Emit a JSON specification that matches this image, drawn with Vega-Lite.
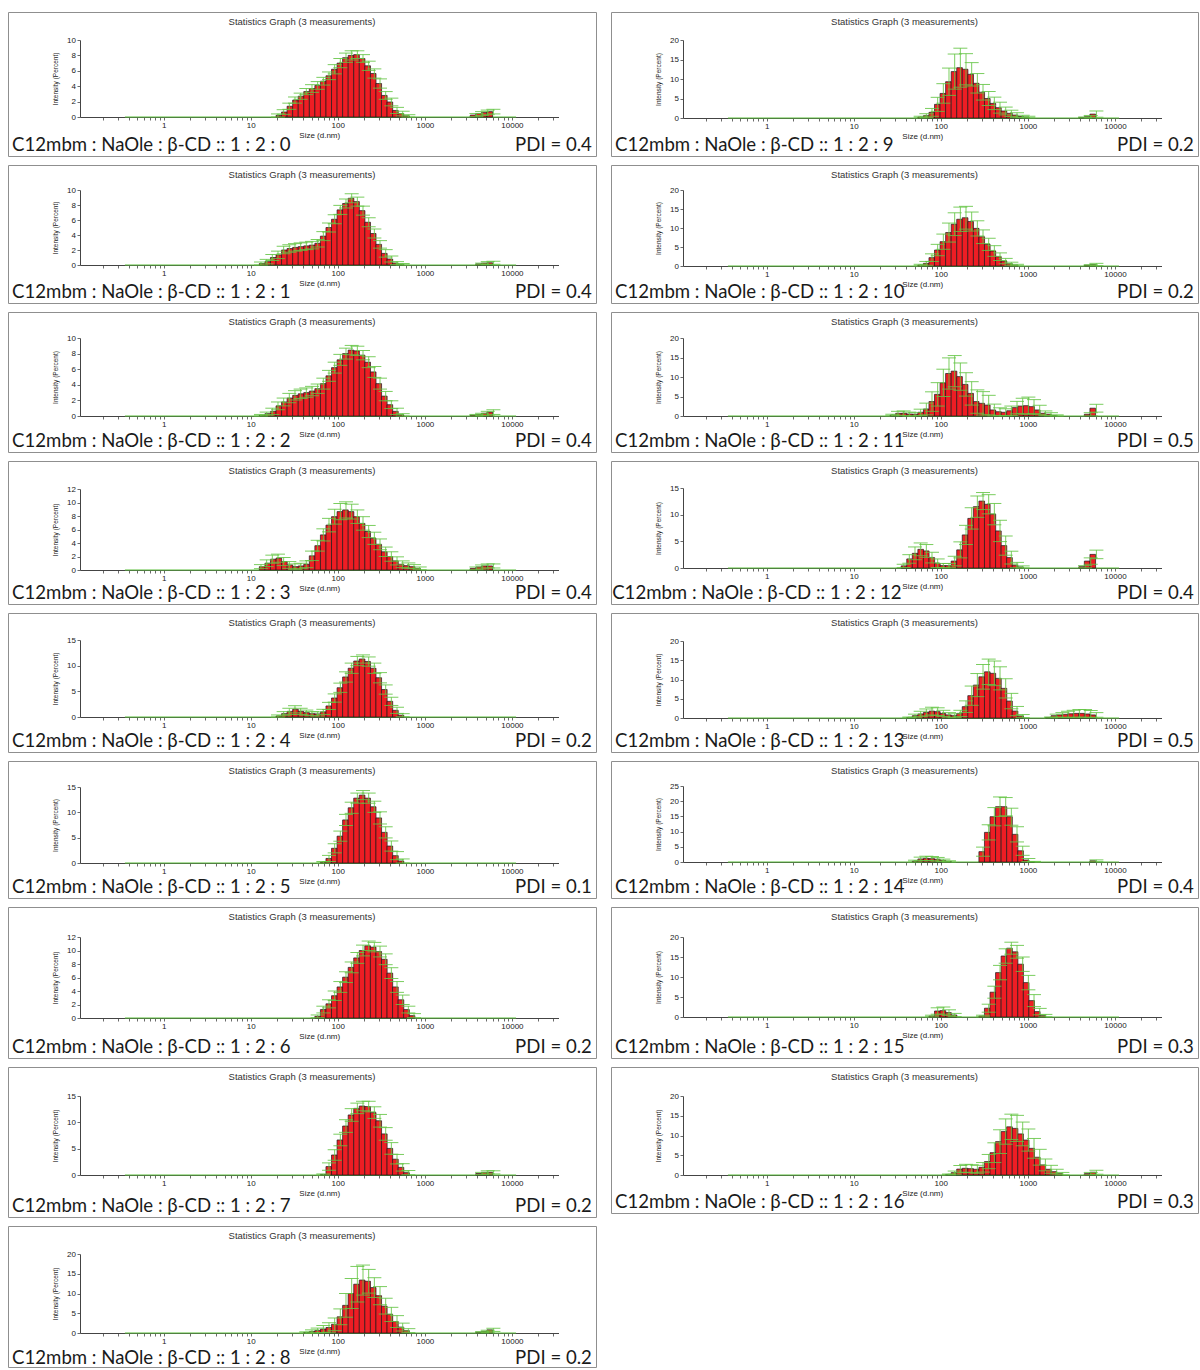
{
  "$schema": "https://vega.github.io/schema/vega-lite/v6.json",
  "padding": {"left": 7, "top": 11, "right": 0, "bottom": 0},
  "background": "white",
  "datasets": {
    "b0": [{"s":21.04,"v":0.2,"e":0.2},{"s":24.36,"v":0.65,"e":0.3},{"s":28.21,"v":1.4,"e":0.4},{"s":32.67,"v":2.2,"e":0.4},{"s":37.84,"v":2.7,"e":0.4},{"s":43.82,"v":3.3,"e":0.4},{"s":50.75,"v":3.7,"e":0.5},{"s":58.77,"v":4.1,"e":0.5},{"s":68.06,"v":4.65,"e":0.5},{"s":78.82,"v":5.35,"e":0.5},{"s":91.28,"v":6.2,"e":0.6},{"s":105.7,"v":7.0,"e":0.6},{"s":122.4,"v":7.7,"e":0.6},{"s":141.8,"v":8.0,"e":0.6},{"s":164.2,"v":8.1,"e":0.5},{"s":190.1,"v":7.6,"e":0.5},{"s":220.2,"v":6.65,"e":0.6},{"s":255,"v":5.65,"e":0.6},{"s":295.3,"v":4.35,"e":0.6},{"s":342,"v":2.8,"e":0.5},{"s":396.1,"v":1.95,"e":0.5},{"s":458.7,"v":0.85,"e":0.4},{"s":531.2,"v":0.45,"e":0.3},{"s":615.1,"v":0.15,"e":0.15},{"s":3580,"v":0.25,"e":0.2},{"s":4145,"v":0.45,"e":0.25},{"s":4801,"v":0.6,"e":0.3},{"s":5560,"v":0.7,"e":0.3}],
    "b1": [{"s":13.54,"v":0.2,"e":0.2},{"s":15.69,"v":0.45,"e":0.3},{"s":18.17,"v":1.0,"e":0.4},{"s":21.04,"v":1.35,"e":0.5},{"s":24.36,"v":2.0,"e":0.5},{"s":28.21,"v":2.2,"e":0.5},{"s":32.67,"v":2.35,"e":0.5},{"s":37.84,"v":2.45,"e":0.5},{"s":43.82,"v":2.55,"e":0.5},{"s":50.75,"v":2.65,"e":0.5},{"s":58.77,"v":2.9,"e":0.5},{"s":68.06,"v":3.85,"e":0.6},{"s":78.82,"v":5.0,"e":0.6},{"s":91.28,"v":6.1,"e":0.6},{"s":105.7,"v":7.35,"e":0.6},{"s":122.4,"v":8.2,"e":0.6},{"s":141.8,"v":8.9,"e":0.6},{"s":164.2,"v":8.45,"e":0.6},{"s":190.1,"v":7.25,"e":0.6},{"s":220.2,"v":5.7,"e":0.6},{"s":255,"v":4.2,"e":0.6},{"s":295.3,"v":2.75,"e":0.5},{"s":342,"v":1.55,"e":0.5},{"s":396.1,"v":0.8,"e":0.4},{"s":458.7,"v":0.25,"e":0.2},{"s":531.2,"v":0.1,"e":0.1},{"s":4145,"v":0.15,"e":0.1},{"s":4801,"v":0.25,"e":0.2},{"s":5560,"v":0.3,"e":0.2}],
    "b2": [{"s":13.54,"v":0.1,"e":0.1},{"s":15.69,"v":0.3,"e":0.2},{"s":18.17,"v":0.6,"e":0.4},{"s":21.04,"v":1.3,"e":0.5},{"s":24.36,"v":1.8,"e":0.5},{"s":28.21,"v":2.3,"e":0.6},{"s":32.67,"v":2.65,"e":0.6},{"s":37.84,"v":2.85,"e":0.6},{"s":43.82,"v":3.0,"e":0.6},{"s":50.75,"v":3.2,"e":0.6},{"s":58.77,"v":3.5,"e":0.6},{"s":68.06,"v":4.15,"e":0.7},{"s":78.82,"v":5.15,"e":0.7},{"s":91.28,"v":6.2,"e":0.7},{"s":105.7,"v":7.2,"e":0.7},{"s":122.4,"v":8.0,"e":0.7},{"s":141.8,"v":8.45,"e":0.6},{"s":164.2,"v":8.35,"e":0.6},{"s":190.1,"v":7.8,"e":0.6},{"s":220.2,"v":6.9,"e":0.7},{"s":255,"v":5.65,"e":0.7},{"s":295.3,"v":4.15,"e":0.7},{"s":342,"v":2.55,"e":0.6},{"s":396.1,"v":1.45,"e":0.5},{"s":458.7,"v":0.6,"e":0.4},{"s":531.2,"v":0.15,"e":0.15},{"s":3580,"v":0.1,"e":0.1},{"s":4145,"v":0.2,"e":0.15},{"s":4801,"v":0.35,"e":0.25},{"s":5560,"v":0.5,"e":0.3}],
    "b3": [{"s":13.54,"v":0.5,"e":0.3},{"s":15.69,"v":1.0,"e":0.5},{"s":18.17,"v":1.6,"e":0.6},{"s":21.04,"v":1.75,"e":0.6},{"s":24.36,"v":1.25,"e":0.6},{"s":28.21,"v":0.75,"e":0.5},{"s":32.67,"v":0.5,"e":0.4},{"s":37.84,"v":0.6,"e":0.4},{"s":43.82,"v":0.85,"e":0.5},{"s":50.75,"v":2.1,"e":0.7},{"s":58.77,"v":3.6,"e":0.8},{"s":68.06,"v":5.2,"e":0.9},{"s":78.82,"v":6.65,"e":1.0},{"s":91.28,"v":7.9,"e":1.1},{"s":105.7,"v":8.65,"e":1.2},{"s":122.4,"v":8.9,"e":1.2},{"s":141.8,"v":8.65,"e":1.1},{"s":164.2,"v":7.9,"e":1.0},{"s":190.1,"v":6.9,"e":1.0},{"s":220.2,"v":5.7,"e":0.9},{"s":255,"v":4.7,"e":0.9},{"s":295.3,"v":3.8,"e":0.8},{"s":342,"v":2.7,"e":0.7},{"s":396.1,"v":2.0,"e":0.7},{"s":458.7,"v":1.35,"e":0.6},{"s":531.2,"v":0.85,"e":0.5},{"s":615.1,"v":0.65,"e":0.4},{"s":712.4,"v":0.5,"e":0.3},{"s":825,"v":0.25,"e":0.2},{"s":3580,"v":0.25,"e":0.2},{"s":4145,"v":0.45,"e":0.3},{"s":4801,"v":0.6,"e":0.3},{"s":5560,"v":0.6,"e":0.3}],
    "b4": [{"s":21.04,"v":0.2,"e":0.2},{"s":24.36,"v":0.65,"e":0.4},{"s":28.21,"v":1.1,"e":0.6},{"s":32.67,"v":1.5,"e":0.7},{"s":37.84,"v":1.1,"e":0.6},{"s":43.82,"v":0.85,"e":0.5},{"s":50.75,"v":0.65,"e":0.4},{"s":58.77,"v":0.6,"e":0.4},{"s":68.06,"v":1.0,"e":0.5},{"s":78.82,"v":2.15,"e":0.7},{"s":91.28,"v":3.7,"e":0.8},{"s":105.7,"v":5.7,"e":0.9},{"s":122.4,"v":7.8,"e":1.0},{"s":141.8,"v":9.5,"e":1.0},{"s":164.2,"v":10.9,"e":0.9},{"s":190.1,"v":11.3,"e":0.8},{"s":220.2,"v":10.8,"e":0.9},{"s":255,"v":9.5,"e":1.0},{"s":295.3,"v":7.65,"e":1.0},{"s":342,"v":5.35,"e":0.9},{"s":396.1,"v":3.05,"e":0.8},{"s":458.7,"v":1.3,"e":0.6},{"s":531.2,"v":0.35,"e":0.3}],
    "b5": [{"s":68.06,"v":0.15,"e":0.15},{"s":78.82,"v":0.9,"e":0.6},{"s":91.28,"v":2.9,"e":0.9},{"s":105.7,"v":5.3,"e":1.0},{"s":122.4,"v":8.5,"e":1.1},{"s":141.8,"v":10.9,"e":1.1},{"s":164.2,"v":12.8,"e":1.0},{"s":190.1,"v":13.4,"e":0.9},{"s":220.2,"v":12.8,"e":1.0},{"s":255,"v":11.1,"e":1.1},{"s":295.3,"v":8.9,"e":1.2},{"s":342,"v":6.05,"e":1.1},{"s":396.1,"v":3.35,"e":1.0},{"s":458.7,"v":1.45,"e":0.8},{"s":531.2,"v":0.4,"e":0.4}],
    "b6": [{"s":58.77,"v":0.25,"e":0.2},{"s":68.06,"v":1.25,"e":0.5},{"s":78.82,"v":2.1,"e":0.6},{"s":91.28,"v":3.3,"e":0.7},{"s":105.7,"v":4.6,"e":0.8},{"s":122.4,"v":6.05,"e":0.8},{"s":141.8,"v":7.5,"e":0.8},{"s":164.2,"v":8.9,"e":0.8},{"s":190.1,"v":10.0,"e":0.8},{"s":220.2,"v":10.7,"e":0.7},{"s":255,"v":10.5,"e":0.7},{"s":295.3,"v":9.85,"e":0.8},{"s":342,"v":8.7,"e":0.8},{"s":396.1,"v":6.65,"e":0.8},{"s":458.7,"v":4.6,"e":0.8},{"s":531.2,"v":2.7,"e":0.7},{"s":615.1,"v":1.25,"e":0.5},{"s":712.4,"v":0.35,"e":0.3}],
    "b7": [{"s":68.06,"v":0.1,"e":0.1},{"s":78.82,"v":1.6,"e":0.7},{"s":91.28,"v":3.8,"e":1.0},{"s":105.7,"v":6.65,"e":1.1},{"s":122.4,"v":9.3,"e":1.2},{"s":141.8,"v":11.4,"e":1.2},{"s":164.2,"v":12.65,"e":1.0},{"s":190.1,"v":13.1,"e":0.9},{"s":220.2,"v":13.0,"e":1.0},{"s":255,"v":11.85,"e":1.1},{"s":295.3,"v":10.3,"e":1.2},{"s":342,"v":7.8,"e":1.2},{"s":396.1,"v":5.05,"e":1.1},{"s":458.7,"v":3.0,"e":0.9},{"s":531.2,"v":1.45,"e":0.7},{"s":615.1,"v":0.45,"e":0.4},{"s":4145,"v":0.3,"e":0.2},{"s":4801,"v":0.5,"e":0.3},{"s":5560,"v":0.5,"e":0.3}],
    "b8": [{"s":43.82,"v":0.15,"e":0.15},{"s":50.75,"v":0.4,"e":0.4},{"s":58.77,"v":0.65,"e":0.6},{"s":68.06,"v":1.0,"e":0.9},{"s":78.82,"v":1.4,"e":1.2},{"s":91.28,"v":2.2,"e":1.6},{"s":105.7,"v":4.1,"e":2.0},{"s":122.4,"v":7.0,"e":3.0},{"s":141.8,"v":10.0,"e":3.8},{"s":164.2,"v":12.35,"e":4.5},{"s":190.1,"v":13.4,"e":3.8},{"s":220.2,"v":13.1,"e":3.0},{"s":255,"v":11.5,"e":2.5},{"s":295.3,"v":9.45,"e":2.3},{"s":342,"v":6.8,"e":2.0},{"s":396.1,"v":4.7,"e":1.8},{"s":458.7,"v":2.9,"e":1.5},{"s":531.2,"v":1.5,"e":1.0},{"s":615.1,"v":0.6,"e":0.5},{"s":4145,"v":0.2,"e":0.15},{"s":4801,"v":0.4,"e":0.3},{"s":5560,"v":0.8,"e":0.4}],
    "b9": [{"s":58.77,"v":0.25,"e":0.2},{"s":68.06,"v":0.6,"e":0.5},{"s":78.82,"v":1.45,"e":1.0},{"s":91.28,"v":3.5,"e":1.8},{"s":105.7,"v":6.3,"e":2.5},{"s":122.4,"v":9.3,"e":3.5},{"s":141.8,"v":11.9,"e":4.5},{"s":164.2,"v":12.9,"e":5.0},{"s":190.1,"v":12.5,"e":4.0},{"s":220.2,"v":11.2,"e":3.0},{"s":255,"v":8.9,"e":2.5},{"s":295.3,"v":6.6,"e":2.0},{"s":342,"v":5.0,"e":1.8},{"s":396.1,"v":3.75,"e":1.6},{"s":458.7,"v":2.65,"e":1.4},{"s":531.2,"v":1.8,"e":1.0},{"s":615.1,"v":1.2,"e":0.8},{"s":712.4,"v":0.75,"e":0.6},{"s":825,"v":0.4,"e":0.3},{"s":955.4,"v":0.25,"e":0.2},{"s":4145,"v":0.15,"e":0.1},{"s":4801,"v":0.35,"e":0.3},{"s":5560,"v":1.0,"e":0.8}],
    "b10": [{"s":58.77,"v":0.25,"e":0.2},{"s":68.06,"v":0.7,"e":0.5},{"s":78.82,"v":2.2,"e":1.0},{"s":91.28,"v":4.2,"e":1.5},{"s":105.7,"v":6.4,"e":2.0},{"s":122.4,"v":8.8,"e":2.5},{"s":141.8,"v":11.0,"e":3.0},{"s":164.2,"v":12.3,"e":3.2},{"s":190.1,"v":12.7,"e":3.0},{"s":220.2,"v":11.7,"e":2.5},{"s":255,"v":9.9,"e":2.0},{"s":295.3,"v":7.7,"e":1.8},{"s":342,"v":5.7,"e":1.6},{"s":396.1,"v":3.95,"e":1.4},{"s":458.7,"v":2.45,"e":1.0},{"s":531.2,"v":1.3,"e":0.7},{"s":615.1,"v":0.6,"e":0.4},{"s":712.4,"v":0.25,"e":0.2},{"s":4801,"v":0.2,"e":0.15},{"s":5560,"v":0.4,"e":0.3}],
    "b11": [{"s":28.21,"v":0.25,"e":0.2},{"s":32.67,"v":0.7,"e":0.5},{"s":37.84,"v":0.7,"e":0.6},{"s":43.82,"v":0.5,"e":0.5},{"s":50.75,"v":0.45,"e":0.4},{"s":58.77,"v":0.95,"e":0.8},{"s":68.06,"v":1.8,"e":1.5},{"s":78.82,"v":3.7,"e":2.5},{"s":91.28,"v":5.55,"e":3.0},{"s":105.7,"v":8.5,"e":3.5},{"s":122.4,"v":10.9,"e":4.0},{"s":141.8,"v":11.5,"e":4.0},{"s":164.2,"v":10.1,"e":3.5},{"s":190.1,"v":8.1,"e":3.0},{"s":220.2,"v":5.8,"e":3.0},{"s":255,"v":3.7,"e":3.0},{"s":295.3,"v":3.25,"e":3.0},{"s":342,"v":2.8,"e":2.5},{"s":396.1,"v":1.55,"e":1.5},{"s":458.7,"v":1.1,"e":1.0},{"s":531.2,"v":0.95,"e":0.9},{"s":615.1,"v":1.35,"e":1.2},{"s":712.4,"v":2.15,"e":1.6},{"s":825,"v":2.55,"e":2.0},{"s":955.4,"v":2.65,"e":2.2},{"s":1106,"v":2.4,"e":1.8},{"s":1281,"v":1.55,"e":1.2},{"s":1484,"v":0.7,"e":0.6},{"s":1718,"v":0.45,"e":0.4},{"s":1990,"v":0.15,"e":0.15},{"s":4801,"v":0.45,"e":0.4},{"s":5560,"v":2.0,"e":1.0}],
    "b12": [{"s":37.84,"v":0.4,"e":0.3},{"s":43.82,"v":1.7,"e":0.8},{"s":50.75,"v":2.75,"e":1.2},{"s":58.77,"v":3.5,"e":1.2},{"s":68.06,"v":3.2,"e":1.2},{"s":78.82,"v":1.95,"e":1.0},{"s":91.28,"v":0.9,"e":0.8},{"s":105.7,"v":0.45,"e":0.4},{"s":122.4,"v":0.45,"e":0.4},{"s":141.8,"v":1.3,"e":0.9},{"s":164.2,"v":3.4,"e":1.5},{"s":190.1,"v":6.2,"e":1.8},{"s":220.2,"v":9.3,"e":2.0},{"s":255,"v":11.5,"e":2.0},{"s":295.3,"v":12.55,"e":1.6},{"s":342,"v":11.95,"e":1.8},{"s":396.1,"v":10.1,"e":2.0},{"s":458.7,"v":6.95,"e":2.0},{"s":531.2,"v":4.2,"e":1.8},{"s":615.1,"v":1.95,"e":1.2},{"s":712.4,"v":0.55,"e":0.5},{"s":825,"v":0.2,"e":0.2},{"s":4145,"v":0.25,"e":0.2},{"s":4801,"v":1.3,"e":0.6},{"s":5560,"v":2.55,"e":0.8}],
    "b13": [{"s":43.82,"v":0.15,"e":0.1},{"s":50.75,"v":0.6,"e":0.4},{"s":58.77,"v":1.05,"e":0.7},{"s":68.06,"v":1.45,"e":0.9},{"s":78.82,"v":1.8,"e":1.0},{"s":91.28,"v":1.65,"e":1.0},{"s":105.7,"v":1.2,"e":0.8},{"s":122.4,"v":0.8,"e":0.6},{"s":141.8,"v":0.6,"e":0.5},{"s":164.2,"v":1.2,"e":0.8},{"s":190.1,"v":2.95,"e":1.5},{"s":220.2,"v":5.8,"e":2.5},{"s":255,"v":8.55,"e":3.0},{"s":295.3,"v":10.7,"e":3.2},{"s":342,"v":12.0,"e":3.3},{"s":396.1,"v":11.6,"e":3.2},{"s":458.7,"v":10.3,"e":3.0},{"s":531.2,"v":7.7,"e":2.5},{"s":615.1,"v":4.4,"e":2.0},{"s":712.4,"v":1.8,"e":1.2},{"s":825,"v":0.5,"e":0.4},{"s":1718,"v":0.15,"e":0.1},{"s":1990,"v":0.6,"e":0.4},{"s":2305,"v":0.8,"e":0.6},{"s":2669,"v":0.95,"e":0.8},{"s":3091,"v":1.1,"e":0.9},{"s":3580,"v":1.2,"e":1.0},{"s":4145,"v":1.2,"e":1.0},{"s":4801,"v":1.05,"e":0.9},{"s":5560,"v":0.8,"e":0.6}],
    "b14": [{"s":50.75,"v":0.3,"e":0.3},{"s":58.77,"v":1.0,"e":0.6},{"s":68.06,"v":1.2,"e":0.7},{"s":78.82,"v":1.1,"e":0.7},{"s":91.28,"v":0.9,"e":0.6},{"s":105.7,"v":0.55,"e":0.4},{"s":122.4,"v":0.2,"e":0.2},{"s":295.3,"v":3.4,"e":1.5},{"s":342,"v":9.75,"e":2.5},{"s":396.1,"v":14.9,"e":3.0},{"s":458.7,"v":18.2,"e":3.2},{"s":531.2,"v":18.2,"e":3.0},{"s":615.1,"v":14.9,"e":2.8},{"s":712.4,"v":9.1,"e":2.5},{"s":825,"v":3.7,"e":1.5},{"s":955.4,"v":0.65,"e":0.5},{"s":1106,"v":0.1,"e":0.1},{"s":5560,"v":0.4,"e":0.3}],
    "b15": [{"s":78.82,"v":0.25,"e":0.2},{"s":91.28,"v":1.5,"e":0.8},{"s":105.7,"v":1.6,"e":0.9},{"s":122.4,"v":1.1,"e":0.7},{"s":141.8,"v":0.5,"e":0.4},{"s":295.3,"v":0.25,"e":0.2},{"s":342,"v":2.2,"e":1.0},{"s":396.1,"v":6.2,"e":1.5},{"s":458.7,"v":11.1,"e":1.8},{"s":531.2,"v":15.25,"e":1.8},{"s":615.1,"v":17.2,"e":1.5},{"s":712.4,"v":16.3,"e":1.6},{"s":825,"v":13.2,"e":1.8},{"s":955.4,"v":8.6,"e":1.8},{"s":1106,"v":4.1,"e":1.5},{"s":1281,"v":1.35,"e":0.8},{"s":1484,"v":0.35,"e":0.3}],
    "b16": [{"s":122.4,"v":0.15,"e":0.1},{"s":141.8,"v":0.6,"e":0.4},{"s":164.2,"v":1.5,"e":0.9},{"s":190.1,"v":1.7,"e":1.0},{"s":220.2,"v":1.6,"e":1.0},{"s":255,"v":1.45,"e":1.0},{"s":295.3,"v":1.95,"e":1.2},{"s":342,"v":3.4,"e":1.8},{"s":396.1,"v":5.65,"e":2.5},{"s":458.7,"v":8.45,"e":3.0},{"s":531.2,"v":11.0,"e":3.2},{"s":615.1,"v":12.2,"e":3.2},{"s":712.4,"v":11.8,"e":3.3},{"s":825,"v":10.4,"e":3.0},{"s":955.4,"v":8.85,"e":2.8},{"s":1106,"v":6.75,"e":2.5},{"s":1281,"v":4.5,"e":2.0},{"s":1484,"v":2.55,"e":1.5},{"s":1718,"v":1.45,"e":1.0},{"s":1990,"v":0.85,"e":0.6},{"s":2305,"v":0.35,"e":0.3},{"s":4801,"v":0.35,"e":0.3},{"s":5560,"v":0.7,"e":0.5}]
  },
  "spacing": 13,
  "hconcat": [
    {
      "spacing": 7,
      "vconcat": [
        {"width": 588, "height": 144, "title": "Statistics Graph (3 measurements)", "layer": [
          {"data": {"values": [{}]}, "mark": {"type": "rule", "color": "#5cbf3c", "strokeWidth": 1.2}, "encoding": {"x": {"datum": 0.4, "type": "quantitative", "scale": {"type": "log", "nice": false, "domain": [0.125, 30000], "range": [72, 550.5]}, "axis": null}, "x2": {"datum": 10000}, "y": {"datum": 0, "type": "quantitative", "scale": {"nice": false, "domain": [0, 10], "range": [105, 28]}, "axis": null}}},
          {"data": {"name": "b0"}, "mark": {"type": "bar", "size": 5.66, "fill": "#ee1d24", "stroke": "#1b1b1b", "strokeWidth": 0.7}, "encoding": {
            "x": {"field": "s", "type": "quantitative", "scale": {"type": "log", "nice": false, "domain": [0.125, 30000], "range": [72, 550.5]}, "axis": {"offset": -39, "title": "Size (d.nm)", "values": [0.2,0.3,0.4,0.5,0.6,0.7,0.8,0.9,1,2,3,4,5,6,7,8,9,10,20,30,40,50,60,70,80,90,100,200,300,400,500,600,700,800,900,1000,2000,3000,4000,5000,6000,7000,8000,9000,10000,20000,30000], "labelExpr": "indexof([1,10,100,1000,10000], datum.value) >= 0 ? format(datum.value, 'd') : ''", "gridOpacity": {"condition": {"test": "indexof([1,10,100,1000,10000], datum.value) >= 0", "value": 1}, "value": 0}}},
            "y": {"field": "v", "type": "quantitative", "scale": {"nice": false, "domain": [0, 10], "range": [105, 28]}, "axis": {"offset": -72, "title": "Intensity (Percent)", "format": "d", "values": [0,2,4,6,8,10], "gridOpacity": {"condition": {"test": "datum.value > 0", "value": 1}, "value": 0}}}}},
          {"data": {"name": "b0"}, "mark": {"type": "errorbar", "color": "#63c443", "opacity": 0.85, "thickness": 1, "ticks": {"size": 14}}, "encoding": {"x": {"field": "s", "type": "quantitative", "scale": {"type": "log", "nice": false, "domain": [0.125, 30000], "range": [72, 550.5]}, "axis": null}, "y": {"field": "v", "type": "quantitative", "scale": {"nice": false, "domain": [0, 10], "range": [105, 28]}, "axis": null}, "yError": {"field": "e"}}},
          {"data": {"values": [{"label": "C12mbm : NaOle : β-CD :: 1 : 2 : 0", "pdi": "PDI = 0.4"}]}, "layer": [
            {"mark": {"type": "text", "align": "left", "baseline": "alphabetic", "font": "Lato", "fontSize": 18.6, "color": "#1a1a1a"}, "encoding": {"x": {"datum": 0.007, "type": "quantitative", "scale": {"domain": [0, 1]}, "axis": null}, "y": {"datum": 0.035, "type": "quantitative", "scale": {"domain": [0, 1]}, "axis": null}, "text": {"field": "label"}}},
            {"mark": {"type": "text", "align": "right", "baseline": "alphabetic", "font": "Lato", "fontSize": 18.6, "color": "#1a1a1a"}, "encoding": {"x": {"datum": 0.993, "type": "quantitative", "scale": {"domain": [0, 1]}, "axis": null}, "y": {"datum": 0.035, "type": "quantitative", "scale": {"domain": [0, 1]}, "axis": null}, "text": {"field": "pdi"}}}
          ]}
        ], "resolve": {"scale": {"x": "independent", "y": "independent"}}},

        {"width": 588, "height": 138, "title": "Statistics Graph (3 measurements)", "layer": [
          {"data": {"values": [{}]}, "mark": {"type": "rule", "color": "#5cbf3c", "strokeWidth": 1.2}, "encoding": {"x": {"datum": 0.4, "type": "quantitative", "scale": {"type": "log", "nice": false, "domain": [0.125, 30000], "range": [72, 550.5]}, "axis": null}, "x2": {"datum": 10000}, "y": {"datum": 0, "type": "quantitative", "scale": {"nice": false, "domain": [0, 10], "range": [100, 25]}, "axis": null}}},
          {"data": {"name": "b1"}, "mark": {"type": "bar", "size": 5.66, "fill": "#ee1d24", "stroke": "#1b1b1b", "strokeWidth": 0.7}, "encoding": {
            "x": {"field": "s", "type": "quantitative", "scale": {"type": "log", "nice": false, "domain": [0.125, 30000], "range": [72, 550.5]}, "axis": {"offset": -38, "title": "Size (d.nm)", "values": [0.2,0.3,0.4,0.5,0.6,0.7,0.8,0.9,1,2,3,4,5,6,7,8,9,10,20,30,40,50,60,70,80,90,100,200,300,400,500,600,700,800,900,1000,2000,3000,4000,5000,6000,7000,8000,9000,10000,20000,30000], "labelExpr": "indexof([1,10,100,1000,10000], datum.value) >= 0 ? format(datum.value, 'd') : ''", "gridOpacity": {"condition": {"test": "indexof([1,10,100,1000,10000], datum.value) >= 0", "value": 1}, "value": 0}}},
            "y": {"field": "v", "type": "quantitative", "scale": {"nice": false, "domain": [0, 10], "range": [100, 25]}, "axis": {"offset": -72, "title": "Intensity (Percent)", "format": "d", "values": [0,2,4,6,8,10], "gridOpacity": {"condition": {"test": "datum.value > 0", "value": 1}, "value": 0}}}}},
          {"data": {"name": "b1"}, "mark": {"type": "errorbar", "color": "#63c443", "opacity": 0.85, "thickness": 1, "ticks": {"size": 14}}, "encoding": {"x": {"field": "s", "type": "quantitative", "scale": {"type": "log", "nice": false, "domain": [0.125, 30000], "range": [72, 550.5]}, "axis": null}, "y": {"field": "v", "type": "quantitative", "scale": {"nice": false, "domain": [0, 10], "range": [100, 25]}, "axis": null}, "yError": {"field": "e"}}},
          {"data": {"values": [{"label": "C12mbm : NaOle : β-CD :: 1 : 2 : 1", "pdi": "PDI = 0.4"}]}, "layer": [
            {"mark": {"type": "text", "align": "left", "baseline": "alphabetic", "font": "Lato", "fontSize": 18.6, "color": "#1a1a1a"}, "encoding": {"x": {"datum": 0.007, "type": "quantitative", "scale": {"domain": [0, 1]}, "axis": null}, "y": {"datum": 0.035, "type": "quantitative", "scale": {"domain": [0, 1]}, "axis": null}, "text": {"field": "label"}}},
            {"mark": {"type": "text", "align": "right", "baseline": "alphabetic", "font": "Lato", "fontSize": 18.6, "color": "#1a1a1a"}, "encoding": {"x": {"datum": 0.993, "type": "quantitative", "scale": {"domain": [0, 1]}, "axis": null}, "y": {"datum": 0.035, "type": "quantitative", "scale": {"domain": [0, 1]}, "axis": null}, "text": {"field": "pdi"}}}
          ]}
        ], "resolve": {"scale": {"x": "independent", "y": "independent"}}},

        {"width": 588, "height": 140, "title": "Statistics Graph (3 measurements)", "layer": [
          {"data": {"values": [{}]}, "mark": {"type": "rule", "color": "#5cbf3c", "strokeWidth": 1.2}, "encoding": {"x": {"datum": 0.4, "type": "quantitative", "scale": {"type": "log", "nice": false, "domain": [0.125, 30000], "range": [72, 550.5]}, "axis": null}, "x2": {"datum": 10000}, "y": {"datum": 0, "type": "quantitative", "scale": {"nice": false, "domain": [0, 10], "range": [104, 26]}, "axis": null}}},
          {"data": {"name": "b2"}, "mark": {"type": "bar", "size": 5.66, "fill": "#ee1d24", "stroke": "#1b1b1b", "strokeWidth": 0.7}, "encoding": {
            "x": {"field": "s", "type": "quantitative", "scale": {"type": "log", "nice": false, "domain": [0.125, 30000], "range": [72, 550.5]}, "axis": {"offset": -36, "title": "Size (d.nm)", "values": [0.2,0.3,0.4,0.5,0.6,0.7,0.8,0.9,1,2,3,4,5,6,7,8,9,10,20,30,40,50,60,70,80,90,100,200,300,400,500,600,700,800,900,1000,2000,3000,4000,5000,6000,7000,8000,9000,10000,20000,30000], "labelExpr": "indexof([1,10,100,1000,10000], datum.value) >= 0 ? format(datum.value, 'd') : ''", "gridOpacity": {"condition": {"test": "indexof([1,10,100,1000,10000], datum.value) >= 0", "value": 1}, "value": 0}}},
            "y": {"field": "v", "type": "quantitative", "scale": {"nice": false, "domain": [0, 10], "range": [104, 26]}, "axis": {"offset": -72, "title": "Intensity (Percent)", "format": "d", "values": [0,2,4,6,8,10], "gridOpacity": {"condition": {"test": "datum.value > 0", "value": 1}, "value": 0}}}}},
          {"data": {"name": "b2"}, "mark": {"type": "errorbar", "color": "#63c443", "opacity": 0.85, "thickness": 1, "ticks": {"size": 14}}, "encoding": {"x": {"field": "s", "type": "quantitative", "scale": {"type": "log", "nice": false, "domain": [0.125, 30000], "range": [72, 550.5]}, "axis": null}, "y": {"field": "v", "type": "quantitative", "scale": {"nice": false, "domain": [0, 10], "range": [104, 26]}, "axis": null}, "yError": {"field": "e"}}},
          {"data": {"values": [{"label": "C12mbm : NaOle : β-CD :: 1 : 2 : 2", "pdi": "PDI = 0.4"}]}, "layer": [
            {"mark": {"type": "text", "align": "left", "baseline": "alphabetic", "font": "Lato", "fontSize": 18.6, "color": "#1a1a1a"}, "encoding": {"x": {"datum": 0.007, "type": "quantitative", "scale": {"domain": [0, 1]}, "axis": null}, "y": {"datum": 0.035, "type": "quantitative", "scale": {"domain": [0, 1]}, "axis": null}, "text": {"field": "label"}}},
            {"mark": {"type": "text", "align": "right", "baseline": "alphabetic", "font": "Lato", "fontSize": 18.6, "color": "#1a1a1a"}, "encoding": {"x": {"datum": 0.993, "type": "quantitative", "scale": {"domain": [0, 1]}, "axis": null}, "y": {"datum": 0.035, "type": "quantitative", "scale": {"domain": [0, 1]}, "axis": null}, "text": {"field": "pdi"}}}
          ]}
        ], "resolve": {"scale": {"x": "independent", "y": "independent"}}},

        {"width": 588, "height": 143, "title": "Statistics Graph (3 measurements)", "layer": [
          {"data": {"values": [{}]}, "mark": {"type": "rule", "color": "#5cbf3c", "strokeWidth": 1.2}, "encoding": {"x": {"datum": 0.4, "type": "quantitative", "scale": {"type": "log", "nice": false, "domain": [0.125, 30000], "range": [72, 550.5]}, "axis": null}, "x2": {"datum": 10000}, "y": {"datum": 0, "type": "quantitative", "scale": {"nice": false, "domain": [0, 12], "range": [109, 28]}, "axis": null}}},
          {"data": {"name": "b3"}, "mark": {"type": "bar", "size": 5.66, "fill": "#ee1d24", "stroke": "#1b1b1b", "strokeWidth": 0.7}, "encoding": {
            "x": {"field": "s", "type": "quantitative", "scale": {"type": "log", "nice": false, "domain": [0.125, 30000], "range": [72, 550.5]}, "axis": {"offset": -34, "title": "Size (d.nm)", "values": [0.2,0.3,0.4,0.5,0.6,0.7,0.8,0.9,1,2,3,4,5,6,7,8,9,10,20,30,40,50,60,70,80,90,100,200,300,400,500,600,700,800,900,1000,2000,3000,4000,5000,6000,7000,8000,9000,10000,20000,30000], "labelExpr": "indexof([1,10,100,1000,10000], datum.value) >= 0 ? format(datum.value, 'd') : ''", "gridOpacity": {"condition": {"test": "indexof([1,10,100,1000,10000], datum.value) >= 0", "value": 1}, "value": 0}}},
            "y": {"field": "v", "type": "quantitative", "scale": {"nice": false, "domain": [0, 12], "range": [109, 28]}, "axis": {"offset": -72, "title": "Intensity (Percent)", "format": "d", "values": [0,2,4,6,8,10,12], "gridOpacity": {"condition": {"test": "datum.value > 0", "value": 1}, "value": 0}}}}},
          {"data": {"name": "b3"}, "mark": {"type": "errorbar", "color": "#63c443", "opacity": 0.85, "thickness": 1, "ticks": {"size": 14}}, "encoding": {"x": {"field": "s", "type": "quantitative", "scale": {"type": "log", "nice": false, "domain": [0.125, 30000], "range": [72, 550.5]}, "axis": null}, "y": {"field": "v", "type": "quantitative", "scale": {"nice": false, "domain": [0, 12], "range": [109, 28]}, "axis": null}, "yError": {"field": "e"}}},
          {"data": {"values": [{"label": "C12mbm : NaOle : β-CD :: 1 : 2 : 3", "pdi": "PDI = 0.4"}]}, "layer": [
            {"mark": {"type": "text", "align": "left", "baseline": "alphabetic", "font": "Lato", "fontSize": 18.6, "color": "#1a1a1a"}, "encoding": {"x": {"datum": 0.007, "type": "quantitative", "scale": {"domain": [0, 1]}, "axis": null}, "y": {"datum": 0.035, "type": "quantitative", "scale": {"domain": [0, 1]}, "axis": null}, "text": {"field": "label"}}},
            {"mark": {"type": "text", "align": "right", "baseline": "alphabetic", "font": "Lato", "fontSize": 18.6, "color": "#1a1a1a"}, "encoding": {"x": {"datum": 0.993, "type": "quantitative", "scale": {"domain": [0, 1]}, "axis": null}, "y": {"datum": 0.035, "type": "quantitative", "scale": {"domain": [0, 1]}, "axis": null}, "text": {"field": "pdi"}}}
          ]}
        ], "resolve": {"scale": {"x": "independent", "y": "independent"}}},

        {"width": 588, "height": 139, "title": "Statistics Graph (3 measurements)", "layer": [
          {"data": {"values": [{}]}, "mark": {"type": "rule", "color": "#5cbf3c", "strokeWidth": 1.2}, "encoding": {"x": {"datum": 0.4, "type": "quantitative", "scale": {"type": "log", "nice": false, "domain": [0.125, 30000], "range": [72, 550.5]}, "axis": null}, "x2": {"datum": 10000}, "y": {"datum": 0, "type": "quantitative", "scale": {"nice": false, "domain": [0, 15], "range": [104, 27]}, "axis": null}}},
          {"data": {"name": "b4"}, "mark": {"type": "bar", "size": 5.66, "fill": "#ee1d24", "stroke": "#1b1b1b", "strokeWidth": 0.7}, "encoding": {
            "x": {"field": "s", "type": "quantitative", "scale": {"type": "log", "nice": false, "domain": [0.125, 30000], "range": [72, 550.5]}, "axis": {"offset": -35, "title": "Size (d.nm)", "values": [0.2,0.3,0.4,0.5,0.6,0.7,0.8,0.9,1,2,3,4,5,6,7,8,9,10,20,30,40,50,60,70,80,90,100,200,300,400,500,600,700,800,900,1000,2000,3000,4000,5000,6000,7000,8000,9000,10000,20000,30000], "labelExpr": "indexof([1,10,100,1000,10000], datum.value) >= 0 ? format(datum.value, 'd') : ''", "gridOpacity": {"condition": {"test": "indexof([1,10,100,1000,10000], datum.value) >= 0", "value": 1}, "value": 0}}},
            "y": {"field": "v", "type": "quantitative", "scale": {"nice": false, "domain": [0, 15], "range": [104, 27]}, "axis": {"offset": -72, "title": "Intensity (Percent)", "format": "d", "values": [0,5,10,15], "gridOpacity": {"condition": {"test": "datum.value > 0", "value": 1}, "value": 0}}}}},
          {"data": {"name": "b4"}, "mark": {"type": "errorbar", "color": "#63c443", "opacity": 0.85, "thickness": 1, "ticks": {"size": 14}}, "encoding": {"x": {"field": "s", "type": "quantitative", "scale": {"type": "log", "nice": false, "domain": [0.125, 30000], "range": [72, 550.5]}, "axis": null}, "y": {"field": "v", "type": "quantitative", "scale": {"nice": false, "domain": [0, 15], "range": [104, 27]}, "axis": null}, "yError": {"field": "e"}}},
          {"data": {"values": [{"label": "C12mbm : NaOle : β-CD :: 1 : 2 : 4", "pdi": "PDI = 0.2"}]}, "layer": [
            {"mark": {"type": "text", "align": "left", "baseline": "alphabetic", "font": "Lato", "fontSize": 18.6, "color": "#1a1a1a"}, "encoding": {"x": {"datum": 0.007, "type": "quantitative", "scale": {"domain": [0, 1]}, "axis": null}, "y": {"datum": 0.035, "type": "quantitative", "scale": {"domain": [0, 1]}, "axis": null}, "text": {"field": "label"}}},
            {"mark": {"type": "text", "align": "right", "baseline": "alphabetic", "font": "Lato", "fontSize": 18.6, "color": "#1a1a1a"}, "encoding": {"x": {"datum": 0.993, "type": "quantitative", "scale": {"domain": [0, 1]}, "axis": null}, "y": {"datum": 0.035, "type": "quantitative", "scale": {"domain": [0, 1]}, "axis": null}, "text": {"field": "pdi"}}}
          ]}
        ], "resolve": {"scale": {"x": "independent", "y": "independent"}}},

        {"width": 588, "height": 137, "title": "Statistics Graph (3 measurements)", "layer": [
          {"data": {"values": [{}]}, "mark": {"type": "rule", "color": "#5cbf3c", "strokeWidth": 1.2}, "encoding": {"x": {"datum": 0.4, "type": "quantitative", "scale": {"type": "log", "nice": false, "domain": [0.125, 30000], "range": [72, 550.5]}, "axis": null}, "x2": {"datum": 10000}, "y": {"datum": 0, "type": "quantitative", "scale": {"nice": false, "domain": [0, 15], "range": [102, 26]}, "axis": null}}},
          {"data": {"name": "b5"}, "mark": {"type": "bar", "size": 5.66, "fill": "#ee1d24", "stroke": "#1b1b1b", "strokeWidth": 0.7}, "encoding": {
            "x": {"field": "s", "type": "quantitative", "scale": {"type": "log", "nice": false, "domain": [0.125, 30000], "range": [72, 550.5]}, "axis": {"offset": -35, "title": "Size (d.nm)", "values": [0.2,0.3,0.4,0.5,0.6,0.7,0.8,0.9,1,2,3,4,5,6,7,8,9,10,20,30,40,50,60,70,80,90,100,200,300,400,500,600,700,800,900,1000,2000,3000,4000,5000,6000,7000,8000,9000,10000,20000,30000], "labelExpr": "indexof([1,10,100,1000,10000], datum.value) >= 0 ? format(datum.value, 'd') : ''", "gridOpacity": {"condition": {"test": "indexof([1,10,100,1000,10000], datum.value) >= 0", "value": 1}, "value": 0}}},
            "y": {"field": "v", "type": "quantitative", "scale": {"nice": false, "domain": [0, 15], "range": [102, 26]}, "axis": {"offset": -72, "title": "Intensity (Percent)", "format": "d", "values": [0,5,10,15], "gridOpacity": {"condition": {"test": "datum.value > 0", "value": 1}, "value": 0}}}}},
          {"data": {"name": "b5"}, "mark": {"type": "errorbar", "color": "#63c443", "opacity": 0.85, "thickness": 1, "ticks": {"size": 14}}, "encoding": {"x": {"field": "s", "type": "quantitative", "scale": {"type": "log", "nice": false, "domain": [0.125, 30000], "range": [72, 550.5]}, "axis": null}, "y": {"field": "v", "type": "quantitative", "scale": {"nice": false, "domain": [0, 15], "range": [102, 26]}, "axis": null}, "yError": {"field": "e"}}},
          {"data": {"values": [{"label": "C12mbm : NaOle : β-CD :: 1 : 2 : 5", "pdi": "PDI = 0.1"}]}, "layer": [
            {"mark": {"type": "text", "align": "left", "baseline": "alphabetic", "font": "Lato", "fontSize": 18.6, "color": "#1a1a1a"}, "encoding": {"x": {"datum": 0.007, "type": "quantitative", "scale": {"domain": [0, 1]}, "axis": null}, "y": {"datum": 0.035, "type": "quantitative", "scale": {"domain": [0, 1]}, "axis": null}, "text": {"field": "label"}}},
            {"mark": {"type": "text", "align": "right", "baseline": "alphabetic", "font": "Lato", "fontSize": 18.6, "color": "#1a1a1a"}, "encoding": {"x": {"datum": 0.993, "type": "quantitative", "scale": {"domain": [0, 1]}, "axis": null}, "y": {"datum": 0.035, "type": "quantitative", "scale": {"domain": [0, 1]}, "axis": null}, "text": {"field": "pdi"}}}
          ]}
        ], "resolve": {"scale": {"x": "independent", "y": "independent"}}},

        {"width": 588, "height": 151, "title": "Statistics Graph (3 measurements)", "layer": [
          {"data": {"values": [{}]}, "mark": {"type": "rule", "color": "#5cbf3c", "strokeWidth": 1.2}, "encoding": {"x": {"datum": 0.4, "type": "quantitative", "scale": {"type": "log", "nice": false, "domain": [0.125, 30000], "range": [72, 550.5]}, "axis": null}, "x2": {"datum": 10000}, "y": {"datum": 0, "type": "quantitative", "scale": {"nice": false, "domain": [0, 12], "range": [111, 30]}, "axis": null}}},
          {"data": {"name": "b6"}, "mark": {"type": "bar", "size": 5.66, "fill": "#ee1d24", "stroke": "#1b1b1b", "strokeWidth": 0.7}, "encoding": {
            "x": {"field": "s", "type": "quantitative", "scale": {"type": "log", "nice": false, "domain": [0.125, 30000], "range": [72, 550.5]}, "axis": {"offset": -40, "title": "Size (d.nm)", "values": [0.2,0.3,0.4,0.5,0.6,0.7,0.8,0.9,1,2,3,4,5,6,7,8,9,10,20,30,40,50,60,70,80,90,100,200,300,400,500,600,700,800,900,1000,2000,3000,4000,5000,6000,7000,8000,9000,10000,20000,30000], "labelExpr": "indexof([1,10,100,1000,10000], datum.value) >= 0 ? format(datum.value, 'd') : ''", "gridOpacity": {"condition": {"test": "indexof([1,10,100,1000,10000], datum.value) >= 0", "value": 1}, "value": 0}}},
            "y": {"field": "v", "type": "quantitative", "scale": {"nice": false, "domain": [0, 12], "range": [111, 30]}, "axis": {"offset": -72, "title": "Intensity (Percent)", "format": "d", "values": [0,2,4,6,8,10,12], "gridOpacity": {"condition": {"test": "datum.value > 0", "value": 1}, "value": 0}}}}},
          {"data": {"name": "b6"}, "mark": {"type": "errorbar", "color": "#63c443", "opacity": 0.85, "thickness": 1, "ticks": {"size": 14}}, "encoding": {"x": {"field": "s", "type": "quantitative", "scale": {"type": "log", "nice": false, "domain": [0.125, 30000], "range": [72, 550.5]}, "axis": null}, "y": {"field": "v", "type": "quantitative", "scale": {"nice": false, "domain": [0, 12], "range": [111, 30]}, "axis": null}, "yError": {"field": "e"}}},
          {"data": {"values": [{"label": "C12mbm : NaOle : β-CD :: 1 : 2 : 6", "pdi": "PDI = 0.2"}]}, "layer": [
            {"mark": {"type": "text", "align": "left", "baseline": "alphabetic", "font": "Lato", "fontSize": 18.6, "color": "#1a1a1a"}, "encoding": {"x": {"datum": 0.007, "type": "quantitative", "scale": {"domain": [0, 1]}, "axis": null}, "y": {"datum": 0.035, "type": "quantitative", "scale": {"domain": [0, 1]}, "axis": null}, "text": {"field": "label"}}},
            {"mark": {"type": "text", "align": "right", "baseline": "alphabetic", "font": "Lato", "fontSize": 18.6, "color": "#1a1a1a"}, "encoding": {"x": {"datum": 0.993, "type": "quantitative", "scale": {"domain": [0, 1]}, "axis": null}, "y": {"datum": 0.035, "type": "quantitative", "scale": {"domain": [0, 1]}, "axis": null}, "text": {"field": "pdi"}}}
          ]}
        ], "resolve": {"scale": {"x": "independent", "y": "independent"}}},

        {"width": 588, "height": 150, "title": "Statistics Graph (3 measurements)", "layer": [
          {"data": {"values": [{}]}, "mark": {"type": "rule", "color": "#5cbf3c", "strokeWidth": 1.2}, "encoding": {"x": {"datum": 0.4, "type": "quantitative", "scale": {"type": "log", "nice": false, "domain": [0.125, 30000], "range": [72, 550.5]}, "axis": null}, "x2": {"datum": 10000}, "y": {"datum": 0, "type": "quantitative", "scale": {"nice": false, "domain": [0, 15], "range": [108, 29]}, "axis": null}}},
          {"data": {"name": "b7"}, "mark": {"type": "bar", "size": 5.66, "fill": "#ee1d24", "stroke": "#1b1b1b", "strokeWidth": 0.7}, "encoding": {
            "x": {"field": "s", "type": "quantitative", "scale": {"type": "log", "nice": false, "domain": [0.125, 30000], "range": [72, 550.5]}, "axis": {"offset": -42, "title": "Size (d.nm)", "values": [0.2,0.3,0.4,0.5,0.6,0.7,0.8,0.9,1,2,3,4,5,6,7,8,9,10,20,30,40,50,60,70,80,90,100,200,300,400,500,600,700,800,900,1000,2000,3000,4000,5000,6000,7000,8000,9000,10000,20000,30000], "labelExpr": "indexof([1,10,100,1000,10000], datum.value) >= 0 ? format(datum.value, 'd') : ''", "gridOpacity": {"condition": {"test": "indexof([1,10,100,1000,10000], datum.value) >= 0", "value": 1}, "value": 0}}},
            "y": {"field": "v", "type": "quantitative", "scale": {"nice": false, "domain": [0, 15], "range": [108, 29]}, "axis": {"offset": -72, "title": "Intensity (Percent)", "format": "d", "values": [0,5,10,15], "gridOpacity": {"condition": {"test": "datum.value > 0", "value": 1}, "value": 0}}}}},
          {"data": {"name": "b7"}, "mark": {"type": "errorbar", "color": "#63c443", "opacity": 0.85, "thickness": 1, "ticks": {"size": 14}}, "encoding": {"x": {"field": "s", "type": "quantitative", "scale": {"type": "log", "nice": false, "domain": [0.125, 30000], "range": [72, 550.5]}, "axis": null}, "y": {"field": "v", "type": "quantitative", "scale": {"nice": false, "domain": [0, 15], "range": [108, 29]}, "axis": null}, "yError": {"field": "e"}}},
          {"data": {"values": [{"label": "C12mbm : NaOle : β-CD :: 1 : 2 : 7", "pdi": "PDI = 0.2"}]}, "layer": [
            {"mark": {"type": "text", "align": "left", "baseline": "alphabetic", "font": "Lato", "fontSize": 18.6, "color": "#1a1a1a"}, "encoding": {"x": {"datum": 0.007, "type": "quantitative", "scale": {"domain": [0, 1]}, "axis": null}, "y": {"datum": 0.035, "type": "quantitative", "scale": {"domain": [0, 1]}, "axis": null}, "text": {"field": "label"}}},
            {"mark": {"type": "text", "align": "right", "baseline": "alphabetic", "font": "Lato", "fontSize": 18.6, "color": "#1a1a1a"}, "encoding": {"x": {"datum": 0.993, "type": "quantitative", "scale": {"domain": [0, 1]}, "axis": null}, "y": {"datum": 0.035, "type": "quantitative", "scale": {"domain": [0, 1]}, "axis": null}, "text": {"field": "pdi"}}}
          ]}
        ], "resolve": {"scale": {"x": "independent", "y": "independent"}}},

        {"width": 588, "height": 141, "title": "Statistics Graph (3 measurements)", "layer": [
          {"data": {"values": [{}]}, "mark": {"type": "rule", "color": "#5cbf3c", "strokeWidth": 1.2}, "encoding": {"x": {"datum": 0.4, "type": "quantitative", "scale": {"type": "log", "nice": false, "domain": [0.125, 30000], "range": [72, 550.5]}, "axis": null}, "x2": {"datum": 10000}, "y": {"datum": 0, "type": "quantitative", "scale": {"nice": false, "domain": [0, 20], "range": [107, 28]}, "axis": null}}},
          {"data": {"name": "b8"}, "mark": {"type": "bar", "size": 5.66, "fill": "#ee1d24", "stroke": "#1b1b1b", "strokeWidth": 0.7}, "encoding": {
            "x": {"field": "s", "type": "quantitative", "scale": {"type": "log", "nice": false, "domain": [0.125, 30000], "range": [72, 550.5]}, "axis": {"offset": -34, "title": "Size (d.nm)", "values": [0.2,0.3,0.4,0.5,0.6,0.7,0.8,0.9,1,2,3,4,5,6,7,8,9,10,20,30,40,50,60,70,80,90,100,200,300,400,500,600,700,800,900,1000,2000,3000,4000,5000,6000,7000,8000,9000,10000,20000,30000], "labelExpr": "indexof([1,10,100,1000,10000], datum.value) >= 0 ? format(datum.value, 'd') : ''", "gridOpacity": {"condition": {"test": "indexof([1,10,100,1000,10000], datum.value) >= 0", "value": 1}, "value": 0}}},
            "y": {"field": "v", "type": "quantitative", "scale": {"nice": false, "domain": [0, 20], "range": [107, 28]}, "axis": {"offset": -72, "title": "Intensity (Percent)", "format": "d", "values": [0,5,10,15,20], "gridOpacity": {"condition": {"test": "datum.value > 0", "value": 1}, "value": 0}}}}},
          {"data": {"name": "b8"}, "mark": {"type": "errorbar", "color": "#63c443", "opacity": 0.85, "thickness": 1, "ticks": {"size": 14}}, "encoding": {"x": {"field": "s", "type": "quantitative", "scale": {"type": "log", "nice": false, "domain": [0.125, 30000], "range": [72, 550.5]}, "axis": null}, "y": {"field": "v", "type": "quantitative", "scale": {"nice": false, "domain": [0, 20], "range": [107, 28]}, "axis": null}, "yError": {"field": "e"}}},
          {"data": {"values": [{"label": "C12mbm : NaOle : β-CD :: 1 : 2 : 8", "pdi": "PDI = 0.2"}]}, "layer": [
            {"mark": {"type": "text", "align": "left", "baseline": "alphabetic", "font": "Lato", "fontSize": 18.6, "color": "#1a1a1a"}, "encoding": {"x": {"datum": 0.007, "type": "quantitative", "scale": {"domain": [0, 1]}, "axis": null}, "y": {"datum": 0.022, "type": "quantitative", "scale": {"domain": [0, 1]}, "axis": null}, "text": {"field": "label"}}},
            {"mark": {"type": "text", "align": "right", "baseline": "alphabetic", "font": "Lato", "fontSize": 18.6, "color": "#1a1a1a"}, "encoding": {"x": {"datum": 0.993, "type": "quantitative", "scale": {"domain": [0, 1]}, "axis": null}, "y": {"datum": 0.022, "type": "quantitative", "scale": {"domain": [0, 1]}, "axis": null}, "text": {"field": "pdi"}}}
          ]}
        ], "resolve": {"scale": {"x": "independent", "y": "independent"}}}
      ]
    },
    {
      "spacing": 7,
      "vconcat": [
        {"width": 587, "height": 144, "title": "Statistics Graph (3 measurements)", "layer": [
          {"data": {"values": [{}]}, "mark": {"type": "rule", "color": "#5cbf3c", "strokeWidth": 1.2}, "encoding": {"x": {"datum": 0.4, "type": "quantitative", "scale": {"type": "log", "nice": false, "domain": [0.125, 30000], "range": [72, 550.5]}, "axis": null}, "x2": {"datum": 10000}, "y": {"datum": 0, "type": "quantitative", "scale": {"nice": false, "domain": [0, 20], "range": [106, 28]}, "axis": null}}},
          {"data": {"name": "b9"}, "mark": {"type": "bar", "size": 5.66, "fill": "#ee1d24", "stroke": "#1b1b1b", "strokeWidth": 0.7}, "encoding": {
            "x": {"field": "s", "type": "quantitative", "scale": {"type": "log", "nice": false, "domain": [0.125, 30000], "range": [72, 550.5]}, "axis": {"offset": -38, "title": "Size (d.nm)", "values": [0.2,0.3,0.4,0.5,0.6,0.7,0.8,0.9,1,2,3,4,5,6,7,8,9,10,20,30,40,50,60,70,80,90,100,200,300,400,500,600,700,800,900,1000,2000,3000,4000,5000,6000,7000,8000,9000,10000,20000,30000], "labelExpr": "indexof([1,10,100,1000,10000], datum.value) >= 0 ? format(datum.value, 'd') : ''", "gridOpacity": {"condition": {"test": "indexof([1,10,100,1000,10000], datum.value) >= 0", "value": 1}, "value": 0}}},
            "y": {"field": "v", "type": "quantitative", "scale": {"nice": false, "domain": [0, 20], "range": [106, 28]}, "axis": {"offset": -72, "title": "Intensity (Percent)", "format": "d", "values": [0,5,10,15,20], "gridOpacity": {"condition": {"test": "datum.value > 0", "value": 1}, "value": 0}}}}},
          {"data": {"name": "b9"}, "mark": {"type": "errorbar", "color": "#63c443", "opacity": 0.85, "thickness": 1, "ticks": {"size": 14}}, "encoding": {"x": {"field": "s", "type": "quantitative", "scale": {"type": "log", "nice": false, "domain": [0.125, 30000], "range": [72, 550.5]}, "axis": null}, "y": {"field": "v", "type": "quantitative", "scale": {"nice": false, "domain": [0, 20], "range": [106, 28]}, "axis": null}, "yError": {"field": "e"}}},
          {"data": {"values": [{"label": "C12mbm : NaOle : β-CD :: 1 : 2 : 9", "pdi": "PDI = 0.2"}]}, "layer": [
            {"mark": {"type": "text", "align": "left", "baseline": "alphabetic", "font": "Lato", "fontSize": 18.6, "color": "#1a1a1a"}, "encoding": {"x": {"datum": 0.007, "type": "quantitative", "scale": {"domain": [0, 1]}, "axis": null}, "y": {"datum": 0.035, "type": "quantitative", "scale": {"domain": [0, 1]}, "axis": null}, "text": {"field": "label"}}},
            {"mark": {"type": "text", "align": "right", "baseline": "alphabetic", "font": "Lato", "fontSize": 18.6, "color": "#1a1a1a"}, "encoding": {"x": {"datum": 0.993, "type": "quantitative", "scale": {"domain": [0, 1]}, "axis": null}, "y": {"datum": 0.035, "type": "quantitative", "scale": {"domain": [0, 1]}, "axis": null}, "text": {"field": "pdi"}}}
          ]}
        ], "resolve": {"scale": {"x": "independent", "y": "independent"}}},

        {"width": 587, "height": 138, "title": "Statistics Graph (3 measurements)", "layer": [
          {"data": {"values": [{}]}, "mark": {"type": "rule", "color": "#5cbf3c", "strokeWidth": 1.2}, "encoding": {"x": {"datum": 0.4, "type": "quantitative", "scale": {"type": "log", "nice": false, "domain": [0.125, 30000], "range": [72, 550.5]}, "axis": null}, "x2": {"datum": 10000}, "y": {"datum": 0, "type": "quantitative", "scale": {"nice": false, "domain": [0, 20], "range": [101, 25]}, "axis": null}}},
          {"data": {"name": "b10"}, "mark": {"type": "bar", "size": 5.66, "fill": "#ee1d24", "stroke": "#1b1b1b", "strokeWidth": 0.7}, "encoding": {
            "x": {"field": "s", "type": "quantitative", "scale": {"type": "log", "nice": false, "domain": [0.125, 30000], "range": [72, 550.5]}, "axis": {"offset": -37, "title": "Size (d.nm)", "values": [0.2,0.3,0.4,0.5,0.6,0.7,0.8,0.9,1,2,3,4,5,6,7,8,9,10,20,30,40,50,60,70,80,90,100,200,300,400,500,600,700,800,900,1000,2000,3000,4000,5000,6000,7000,8000,9000,10000,20000,30000], "labelExpr": "indexof([1,10,100,1000,10000], datum.value) >= 0 ? format(datum.value, 'd') : ''", "gridOpacity": {"condition": {"test": "indexof([1,10,100,1000,10000], datum.value) >= 0", "value": 1}, "value": 0}}},
            "y": {"field": "v", "type": "quantitative", "scale": {"nice": false, "domain": [0, 20], "range": [101, 25]}, "axis": {"offset": -72, "title": "Intensity (Percent)", "format": "d", "values": [0,5,10,15,20], "gridOpacity": {"condition": {"test": "datum.value > 0", "value": 1}, "value": 0}}}}},
          {"data": {"name": "b10"}, "mark": {"type": "errorbar", "color": "#63c443", "opacity": 0.85, "thickness": 1, "ticks": {"size": 14}}, "encoding": {"x": {"field": "s", "type": "quantitative", "scale": {"type": "log", "nice": false, "domain": [0.125, 30000], "range": [72, 550.5]}, "axis": null}, "y": {"field": "v", "type": "quantitative", "scale": {"nice": false, "domain": [0, 20], "range": [101, 25]}, "axis": null}, "yError": {"field": "e"}}},
          {"data": {"values": [{"label": "C12mbm : NaOle : β-CD :: 1 : 2 : 10", "pdi": "PDI = 0.2"}]}, "layer": [
            {"mark": {"type": "text", "align": "left", "baseline": "alphabetic", "font": "Lato", "fontSize": 18.6, "color": "#1a1a1a"}, "encoding": {"x": {"datum": 0.007, "type": "quantitative", "scale": {"domain": [0, 1]}, "axis": null}, "y": {"datum": 0.035, "type": "quantitative", "scale": {"domain": [0, 1]}, "axis": null}, "text": {"field": "label"}}},
            {"mark": {"type": "text", "align": "right", "baseline": "alphabetic", "font": "Lato", "fontSize": 18.6, "color": "#1a1a1a"}, "encoding": {"x": {"datum": 0.993, "type": "quantitative", "scale": {"domain": [0, 1]}, "axis": null}, "y": {"datum": 0.035, "type": "quantitative", "scale": {"domain": [0, 1]}, "axis": null}, "text": {"field": "pdi"}}}
          ]}
        ], "resolve": {"scale": {"x": "independent", "y": "independent"}}},

        {"width": 587, "height": 140, "title": "Statistics Graph (3 measurements)", "layer": [
          {"data": {"values": [{}]}, "mark": {"type": "rule", "color": "#5cbf3c", "strokeWidth": 1.2}, "encoding": {"x": {"datum": 0.4, "type": "quantitative", "scale": {"type": "log", "nice": false, "domain": [0.125, 30000], "range": [72, 550.5]}, "axis": null}, "x2": {"datum": 10000}, "y": {"datum": 0, "type": "quantitative", "scale": {"nice": false, "domain": [0, 20], "range": [104, 26]}, "axis": null}}},
          {"data": {"name": "b11"}, "mark": {"type": "bar", "size": 5.66, "fill": "#ee1d24", "stroke": "#1b1b1b", "strokeWidth": 0.7}, "encoding": {
            "x": {"field": "s", "type": "quantitative", "scale": {"type": "log", "nice": false, "domain": [0.125, 30000], "range": [72, 550.5]}, "axis": {"offset": -36, "title": "Size (d.nm)", "values": [0.2,0.3,0.4,0.5,0.6,0.7,0.8,0.9,1,2,3,4,5,6,7,8,9,10,20,30,40,50,60,70,80,90,100,200,300,400,500,600,700,800,900,1000,2000,3000,4000,5000,6000,7000,8000,9000,10000,20000,30000], "labelExpr": "indexof([1,10,100,1000,10000], datum.value) >= 0 ? format(datum.value, 'd') : ''", "gridOpacity": {"condition": {"test": "indexof([1,10,100,1000,10000], datum.value) >= 0", "value": 1}, "value": 0}}},
            "y": {"field": "v", "type": "quantitative", "scale": {"nice": false, "domain": [0, 20], "range": [104, 26]}, "axis": {"offset": -72, "title": "Intensity (Percent)", "format": "d", "values": [0,5,10,15,20], "gridOpacity": {"condition": {"test": "datum.value > 0", "value": 1}, "value": 0}}}}},
          {"data": {"name": "b11"}, "mark": {"type": "errorbar", "color": "#63c443", "opacity": 0.85, "thickness": 1, "ticks": {"size": 14}}, "encoding": {"x": {"field": "s", "type": "quantitative", "scale": {"type": "log", "nice": false, "domain": [0.125, 30000], "range": [72, 550.5]}, "axis": null}, "y": {"field": "v", "type": "quantitative", "scale": {"nice": false, "domain": [0, 20], "range": [104, 26]}, "axis": null}, "yError": {"field": "e"}}},
          {"data": {"values": [{"label": "C12mbm : NaOle : β-CD :: 1 : 2 : 11", "pdi": "PDI = 0.5"}]}, "layer": [
            {"mark": {"type": "text", "align": "left", "baseline": "alphabetic", "font": "Lato", "fontSize": 18.6, "color": "#1a1a1a"}, "encoding": {"x": {"datum": 0.007, "type": "quantitative", "scale": {"domain": [0, 1]}, "axis": null}, "y": {"datum": 0.035, "type": "quantitative", "scale": {"domain": [0, 1]}, "axis": null}, "text": {"field": "label"}}},
            {"mark": {"type": "text", "align": "right", "baseline": "alphabetic", "font": "Lato", "fontSize": 18.6, "color": "#1a1a1a"}, "encoding": {"x": {"datum": 0.993, "type": "quantitative", "scale": {"domain": [0, 1]}, "axis": null}, "y": {"datum": 0.035, "type": "quantitative", "scale": {"domain": [0, 1]}, "axis": null}, "text": {"field": "pdi"}}}
          ]}
        ], "resolve": {"scale": {"x": "independent", "y": "independent"}}},

        {"width": 587, "height": 143, "title": "Statistics Graph (3 measurements)", "layer": [
          {"data": {"values": [{}]}, "mark": {"type": "rule", "color": "#5cbf3c", "strokeWidth": 1.2}, "encoding": {"x": {"datum": 0.4, "type": "quantitative", "scale": {"type": "log", "nice": false, "domain": [0.125, 30000], "range": [72, 550.5]}, "axis": null}, "x2": {"datum": 10000}, "y": {"datum": 0, "type": "quantitative", "scale": {"nice": false, "domain": [0, 15], "range": [107, 27]}, "axis": null}}},
          {"data": {"name": "b12"}, "mark": {"type": "bar", "size": 5.66, "fill": "#ee1d24", "stroke": "#1b1b1b", "strokeWidth": 0.7}, "encoding": {
            "x": {"field": "s", "type": "quantitative", "scale": {"type": "log", "nice": false, "domain": [0.125, 30000], "range": [72, 550.5]}, "axis": {"offset": -36, "title": "Size (d.nm)", "values": [0.2,0.3,0.4,0.5,0.6,0.7,0.8,0.9,1,2,3,4,5,6,7,8,9,10,20,30,40,50,60,70,80,90,100,200,300,400,500,600,700,800,900,1000,2000,3000,4000,5000,6000,7000,8000,9000,10000,20000,30000], "labelExpr": "indexof([1,10,100,1000,10000], datum.value) >= 0 ? format(datum.value, 'd') : ''", "gridOpacity": {"condition": {"test": "indexof([1,10,100,1000,10000], datum.value) >= 0", "value": 1}, "value": 0}}},
            "y": {"field": "v", "type": "quantitative", "scale": {"nice": false, "domain": [0, 15], "range": [107, 27]}, "axis": {"offset": -72, "title": "Intensity (Percent)", "format": "d", "values": [0,5,10,15], "gridOpacity": {"condition": {"test": "datum.value > 0", "value": 1}, "value": 0}}}}},
          {"data": {"name": "b12"}, "mark": {"type": "errorbar", "color": "#63c443", "opacity": 0.85, "thickness": 1, "ticks": {"size": 14}}, "encoding": {"x": {"field": "s", "type": "quantitative", "scale": {"type": "log", "nice": false, "domain": [0.125, 30000], "range": [72, 550.5]}, "axis": null}, "y": {"field": "v", "type": "quantitative", "scale": {"nice": false, "domain": [0, 15], "range": [107, 27]}, "axis": null}, "yError": {"field": "e"}}},
          {"data": {"values": [{"label": "C12mbm : NaOle : β-CD :: 1 : 2 : 12", "pdi": "PDI = 0.4"}]}, "layer": [
            {"mark": {"type": "text", "align": "left", "baseline": "alphabetic", "font": "Lato", "fontSize": 18.6, "color": "#1a1a1a"}, "encoding": {"x": {"datum": 0.002, "type": "quantitative", "scale": {"domain": [0, 1]}, "axis": null}, "y": {"datum": 0.035, "type": "quantitative", "scale": {"domain": [0, 1]}, "axis": null}, "text": {"field": "label"}}},
            {"mark": {"type": "text", "align": "right", "baseline": "alphabetic", "font": "Lato", "fontSize": 18.6, "color": "#1a1a1a"}, "encoding": {"x": {"datum": 0.993, "type": "quantitative", "scale": {"domain": [0, 1]}, "axis": null}, "y": {"datum": 0.035, "type": "quantitative", "scale": {"domain": [0, 1]}, "axis": null}, "text": {"field": "pdi"}}}
          ]}
        ], "resolve": {"scale": {"x": "independent", "y": "independent"}}},

        {"width": 587, "height": 139, "title": "Statistics Graph (3 measurements)", "layer": [
          {"data": {"values": [{}]}, "mark": {"type": "rule", "color": "#5cbf3c", "strokeWidth": 1.2}, "encoding": {"x": {"datum": 0.4, "type": "quantitative", "scale": {"type": "log", "nice": false, "domain": [0.125, 30000], "range": [72, 550.5]}, "axis": null}, "x2": {"datum": 10000}, "y": {"datum": 0, "type": "quantitative", "scale": {"nice": false, "domain": [0, 20], "range": [105, 28]}, "axis": null}}},
          {"data": {"name": "b13"}, "mark": {"type": "bar", "size": 5.66, "fill": "#ee1d24", "stroke": "#1b1b1b", "strokeWidth": 0.7}, "encoding": {
            "x": {"field": "s", "type": "quantitative", "scale": {"type": "log", "nice": false, "domain": [0.125, 30000], "range": [72, 550.5]}, "axis": {"offset": -34, "title": "Size (d.nm)", "values": [0.2,0.3,0.4,0.5,0.6,0.7,0.8,0.9,1,2,3,4,5,6,7,8,9,10,20,30,40,50,60,70,80,90,100,200,300,400,500,600,700,800,900,1000,2000,3000,4000,5000,6000,7000,8000,9000,10000,20000,30000], "labelExpr": "indexof([1,10,100,1000,10000], datum.value) >= 0 ? format(datum.value, 'd') : ''", "gridOpacity": {"condition": {"test": "indexof([1,10,100,1000,10000], datum.value) >= 0", "value": 1}, "value": 0}}},
            "y": {"field": "v", "type": "quantitative", "scale": {"nice": false, "domain": [0, 20], "range": [105, 28]}, "axis": {"offset": -72, "title": "Intensity (Percent)", "format": "d", "values": [0,5,10,15,20], "gridOpacity": {"condition": {"test": "datum.value > 0", "value": 1}, "value": 0}}}}},
          {"data": {"name": "b13"}, "mark": {"type": "errorbar", "color": "#63c443", "opacity": 0.85, "thickness": 1, "ticks": {"size": 14}}, "encoding": {"x": {"field": "s", "type": "quantitative", "scale": {"type": "log", "nice": false, "domain": [0.125, 30000], "range": [72, 550.5]}, "axis": null}, "y": {"field": "v", "type": "quantitative", "scale": {"nice": false, "domain": [0, 20], "range": [105, 28]}, "axis": null}, "yError": {"field": "e"}}},
          {"data": {"values": [{"label": "C12mbm : NaOle : β-CD :: 1 : 2 : 13", "pdi": "PDI = 0.5"}]}, "layer": [
            {"mark": {"type": "text", "align": "left", "baseline": "alphabetic", "font": "Lato", "fontSize": 18.6, "color": "#1a1a1a"}, "encoding": {"x": {"datum": 0.007, "type": "quantitative", "scale": {"domain": [0, 1]}, "axis": null}, "y": {"datum": 0.035, "type": "quantitative", "scale": {"domain": [0, 1]}, "axis": null}, "text": {"field": "label"}}},
            {"mark": {"type": "text", "align": "right", "baseline": "alphabetic", "font": "Lato", "fontSize": 18.6, "color": "#1a1a1a"}, "encoding": {"x": {"datum": 0.993, "type": "quantitative", "scale": {"domain": [0, 1]}, "axis": null}, "y": {"datum": 0.035, "type": "quantitative", "scale": {"domain": [0, 1]}, "axis": null}, "text": {"field": "pdi"}}}
          ]}
        ], "resolve": {"scale": {"x": "independent", "y": "independent"}}},

        {"width": 587, "height": 137, "title": "Statistics Graph (3 measurements)", "layer": [
          {"data": {"values": [{}]}, "mark": {"type": "rule", "color": "#5cbf3c", "strokeWidth": 1.2}, "encoding": {"x": {"datum": 0.4, "type": "quantitative", "scale": {"type": "log", "nice": false, "domain": [0.125, 30000], "range": [72, 550.5]}, "axis": null}, "x2": {"datum": 10000}, "y": {"datum": 0, "type": "quantitative", "scale": {"nice": false, "domain": [0, 25], "range": [101, 25]}, "axis": null}}},
          {"data": {"name": "b14"}, "mark": {"type": "bar", "size": 5.66, "fill": "#ee1d24", "stroke": "#1b1b1b", "strokeWidth": 0.7}, "encoding": {
            "x": {"field": "s", "type": "quantitative", "scale": {"type": "log", "nice": false, "domain": [0.125, 30000], "range": [72, 550.5]}, "axis": {"offset": -36, "title": "Size (d.nm)", "values": [0.2,0.3,0.4,0.5,0.6,0.7,0.8,0.9,1,2,3,4,5,6,7,8,9,10,20,30,40,50,60,70,80,90,100,200,300,400,500,600,700,800,900,1000,2000,3000,4000,5000,6000,7000,8000,9000,10000,20000,30000], "labelExpr": "indexof([1,10,100,1000,10000], datum.value) >= 0 ? format(datum.value, 'd') : ''", "gridOpacity": {"condition": {"test": "indexof([1,10,100,1000,10000], datum.value) >= 0", "value": 1}, "value": 0}}},
            "y": {"field": "v", "type": "quantitative", "scale": {"nice": false, "domain": [0, 25], "range": [101, 25]}, "axis": {"offset": -72, "title": "Intensity (Percent)", "format": "d", "values": [0,5,10,15,20,25], "gridOpacity": {"condition": {"test": "datum.value > 0", "value": 1}, "value": 0}}}}},
          {"data": {"name": "b14"}, "mark": {"type": "errorbar", "color": "#63c443", "opacity": 0.85, "thickness": 1, "ticks": {"size": 14}}, "encoding": {"x": {"field": "s", "type": "quantitative", "scale": {"type": "log", "nice": false, "domain": [0.125, 30000], "range": [72, 550.5]}, "axis": null}, "y": {"field": "v", "type": "quantitative", "scale": {"nice": false, "domain": [0, 25], "range": [101, 25]}, "axis": null}, "yError": {"field": "e"}}},
          {"data": {"values": [{"label": "C12mbm : NaOle : β-CD :: 1 : 2 : 14", "pdi": "PDI = 0.4"}]}, "layer": [
            {"mark": {"type": "text", "align": "left", "baseline": "alphabetic", "font": "Lato", "fontSize": 18.6, "color": "#1a1a1a"}, "encoding": {"x": {"datum": 0.007, "type": "quantitative", "scale": {"domain": [0, 1]}, "axis": null}, "y": {"datum": 0.035, "type": "quantitative", "scale": {"domain": [0, 1]}, "axis": null}, "text": {"field": "label"}}},
            {"mark": {"type": "text", "align": "right", "baseline": "alphabetic", "font": "Lato", "fontSize": 18.6, "color": "#1a1a1a"}, "encoding": {"x": {"datum": 0.993, "type": "quantitative", "scale": {"domain": [0, 1]}, "axis": null}, "y": {"datum": 0.035, "type": "quantitative", "scale": {"domain": [0, 1]}, "axis": null}, "text": {"field": "pdi"}}}
          ]}
        ], "resolve": {"scale": {"x": "independent", "y": "independent"}}},

        {"width": 587, "height": 151, "title": "Statistics Graph (3 measurements)", "layer": [
          {"data": {"values": [{}]}, "mark": {"type": "rule", "color": "#5cbf3c", "strokeWidth": 1.2}, "encoding": {"x": {"datum": 0.4, "type": "quantitative", "scale": {"type": "log", "nice": false, "domain": [0.125, 30000], "range": [72, 550.5]}, "axis": null}, "x2": {"datum": 10000}, "y": {"datum": 0, "type": "quantitative", "scale": {"nice": false, "domain": [0, 20], "range": [110, 30]}, "axis": null}}},
          {"data": {"name": "b15"}, "mark": {"type": "bar", "size": 5.66, "fill": "#ee1d24", "stroke": "#1b1b1b", "strokeWidth": 0.7}, "encoding": {
            "x": {"field": "s", "type": "quantitative", "scale": {"type": "log", "nice": false, "domain": [0.125, 30000], "range": [72, 550.5]}, "axis": {"offset": -41, "title": "Size (d.nm)", "values": [0.2,0.3,0.4,0.5,0.6,0.7,0.8,0.9,1,2,3,4,5,6,7,8,9,10,20,30,40,50,60,70,80,90,100,200,300,400,500,600,700,800,900,1000,2000,3000,4000,5000,6000,7000,8000,9000,10000,20000,30000], "labelExpr": "indexof([1,10,100,1000,10000], datum.value) >= 0 ? format(datum.value, 'd') : ''", "gridOpacity": {"condition": {"test": "indexof([1,10,100,1000,10000], datum.value) >= 0", "value": 1}, "value": 0}}},
            "y": {"field": "v", "type": "quantitative", "scale": {"nice": false, "domain": [0, 20], "range": [110, 30]}, "axis": {"offset": -72, "title": "Intensity (Percent)", "format": "d", "values": [0,5,10,15,20], "gridOpacity": {"condition": {"test": "datum.value > 0", "value": 1}, "value": 0}}}}},
          {"data": {"name": "b15"}, "mark": {"type": "errorbar", "color": "#63c443", "opacity": 0.85, "thickness": 1, "ticks": {"size": 14}}, "encoding": {"x": {"field": "s", "type": "quantitative", "scale": {"type": "log", "nice": false, "domain": [0.125, 30000], "range": [72, 550.5]}, "axis": null}, "y": {"field": "v", "type": "quantitative", "scale": {"nice": false, "domain": [0, 20], "range": [110, 30]}, "axis": null}, "yError": {"field": "e"}}},
          {"data": {"values": [{"label": "C12mbm : NaOle : β-CD :: 1 : 2 : 15", "pdi": "PDI = 0.3"}]}, "layer": [
            {"mark": {"type": "text", "align": "left", "baseline": "alphabetic", "font": "Lato", "fontSize": 18.6, "color": "#1a1a1a"}, "encoding": {"x": {"datum": 0.007, "type": "quantitative", "scale": {"domain": [0, 1]}, "axis": null}, "y": {"datum": 0.035, "type": "quantitative", "scale": {"domain": [0, 1]}, "axis": null}, "text": {"field": "label"}}},
            {"mark": {"type": "text", "align": "right", "baseline": "alphabetic", "font": "Lato", "fontSize": 18.6, "color": "#1a1a1a"}, "encoding": {"x": {"datum": 0.993, "type": "quantitative", "scale": {"domain": [0, 1]}, "axis": null}, "y": {"datum": 0.035, "type": "quantitative", "scale": {"domain": [0, 1]}, "axis": null}, "text": {"field": "pdi"}}}
          ]}
        ], "resolve": {"scale": {"x": "independent", "y": "independent"}}},

        {"width": 587, "height": 146, "title": "Statistics Graph (3 measurements)", "layer": [
          {"data": {"values": [{}]}, "mark": {"type": "rule", "color": "#5cbf3c", "strokeWidth": 1.2}, "encoding": {"x": {"datum": 0.4, "type": "quantitative", "scale": {"type": "log", "nice": false, "domain": [0.125, 30000], "range": [72, 550.5]}, "axis": null}, "x2": {"datum": 10000}, "y": {"datum": 0, "type": "quantitative", "scale": {"nice": false, "domain": [0, 20], "range": [108, 29]}, "axis": null}}},
          {"data": {"name": "b16"}, "mark": {"type": "bar", "size": 5.66, "fill": "#ee1d24", "stroke": "#1b1b1b", "strokeWidth": 0.7}, "encoding": {
            "x": {"field": "s", "type": "quantitative", "scale": {"type": "log", "nice": false, "domain": [0.125, 30000], "range": [72, 550.5]}, "axis": {"offset": -38, "title": "Size (d.nm)", "values": [0.2,0.3,0.4,0.5,0.6,0.7,0.8,0.9,1,2,3,4,5,6,7,8,9,10,20,30,40,50,60,70,80,90,100,200,300,400,500,600,700,800,900,1000,2000,3000,4000,5000,6000,7000,8000,9000,10000,20000,30000], "labelExpr": "indexof([1,10,100,1000,10000], datum.value) >= 0 ? format(datum.value, 'd') : ''", "gridOpacity": {"condition": {"test": "indexof([1,10,100,1000,10000], datum.value) >= 0", "value": 1}, "value": 0}}},
            "y": {"field": "v", "type": "quantitative", "scale": {"nice": false, "domain": [0, 20], "range": [108, 29]}, "axis": {"offset": -72, "title": "Intensity (Percent)", "format": "d", "values": [0,5,10,15,20], "gridOpacity": {"condition": {"test": "datum.value > 0", "value": 1}, "value": 0}}}}},
          {"data": {"name": "b16"}, "mark": {"type": "errorbar", "color": "#63c443", "opacity": 0.85, "thickness": 1, "ticks": {"size": 14}}, "encoding": {"x": {"field": "s", "type": "quantitative", "scale": {"type": "log", "nice": false, "domain": [0.125, 30000], "range": [72, 550.5]}, "axis": null}, "y": {"field": "v", "type": "quantitative", "scale": {"nice": false, "domain": [0, 20], "range": [108, 29]}, "axis": null}, "yError": {"field": "e"}}},
          {"data": {"values": [{"label": "C12mbm : NaOle : β-CD :: 1 : 2 : 16", "pdi": "PDI = 0.3"}]}, "layer": [
            {"mark": {"type": "text", "align": "left", "baseline": "alphabetic", "font": "Lato", "fontSize": 18.6, "color": "#1a1a1a"}, "encoding": {"x": {"datum": 0.007, "type": "quantitative", "scale": {"domain": [0, 1]}, "axis": null}, "y": {"datum": 0.035, "type": "quantitative", "scale": {"domain": [0, 1]}, "axis": null}, "text": {"field": "label"}}},
            {"mark": {"type": "text", "align": "right", "baseline": "alphabetic", "font": "Lato", "fontSize": 18.6, "color": "#1a1a1a"}, "encoding": {"x": {"datum": 0.993, "type": "quantitative", "scale": {"domain": [0, 1]}, "axis": null}, "y": {"datum": 0.035, "type": "quantitative", "scale": {"domain": [0, 1]}, "axis": null}, "text": {"field": "pdi"}}}
          ]}
        ], "resolve": {"scale": {"x": "independent", "y": "independent"}}}
      ]
    }
  ],
  "config": {
    "view": {"stroke": "#8f8f8f", "strokeWidth": 1, "fill": "white"},
    "axis": {"labelFont": "Liberation Sans", "labelFontSize": 8, "labelColor": "#222", "labelPadding": 1.5, "labelFlush": false, "labelOverlap": false, "tickSize": 3, "grid": true, "titleFont": "Liberation Sans", "titleFontSize": 8, "titleFontWeight": "normal", "titleColor": "#222", "domainColor": "#444", "tickColor": "#444", "tickWidth": 0.8, "gridColor": "#777", "gridDash": [1, 3], "gridWidth": 0.9, "zindex": 0},
    "axisX": {"titlePadding": 2},
    "axisY": {"titleFontSize": 6.5, "titlePadding": 8},
    "title": {"font": "Liberation Sans", "fontSize": 9.5, "fontWeight": "normal", "color": "#333", "offset": -14, "anchor": "middle", "frame": "group"}
  }
}
